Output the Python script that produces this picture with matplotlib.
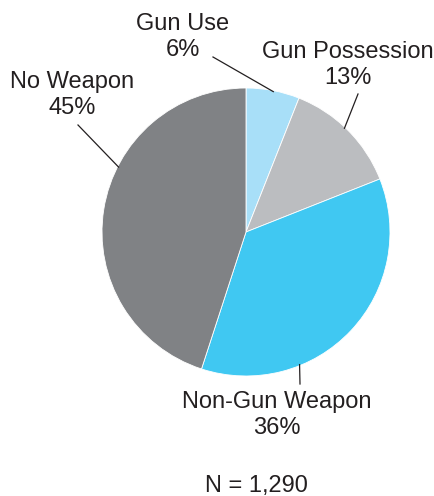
import matplotlib
matplotlib.use("Agg")
import numpy as np
import matplotlib.pyplot as plt

plt.rcParams['font.family'] = ['Liberation Sans', 'DejaVu Sans']

# data
labels = ["Gun Use", "Gun Possession", "Non-Gun Weapon", "No Weapon"]
shares = [6, 13, 36, 45]
colors = ["#a8dff8", "#bbbdc0", "#40c8f2", "#808285"]
n_total = "1,290"

W, H = 435, 496
fig = plt.figure(figsize=(W / 100, H / 100), dpi=100)
ax = fig.add_axes([0, 0, 1, 1])

cx, cy, r = 246, H - 232, 144
wedges, _ = ax.pie(shares, colors=colors, startangle=90, counterclock=False,
                   center=(cx, cy), radius=r, frame=True,
                   wedgeprops=dict(linewidth=0.6, edgecolor="white"))
ax.set_xlim(0, W)
ax.set_ylim(0, H)
ax.set_aspect("equal")
ax.axis("off")

txt = "#231f20"
# label positions (pixel coords, y from top) and leader line: angle on rim, outer end
label_pos = [(183, 37), (348, 65), (277, 415), (72, 95)]
leader_ang = [79, 46.5, -68, 153]
leader_end = [(213, 57), (358, 94), (300, 384), (78, 125)]

for lab, s, (lx, ly), ang, (ex, ey) in zip(labels, shares, label_pos, leader_ang, leader_end):
    ax.text(lx, H - ly, f"{lab}\n{s}%", ha="center", va="center",
            fontsize=17, color=txt, linespacing=1.25)
    a = np.deg2rad(ang)
    x0, y0 = cx + (r - 1) * np.cos(a), cy + (r - 1) * np.sin(a)
    ax.plot([x0, ex], [y0, H - ey], color=txt, lw=0.9)

ax.text(256, H - 486, f"N = {n_total}", ha="center", va="center",
        fontsize=17, color=txt)

fig.savefig("out.png", dpi=100)
